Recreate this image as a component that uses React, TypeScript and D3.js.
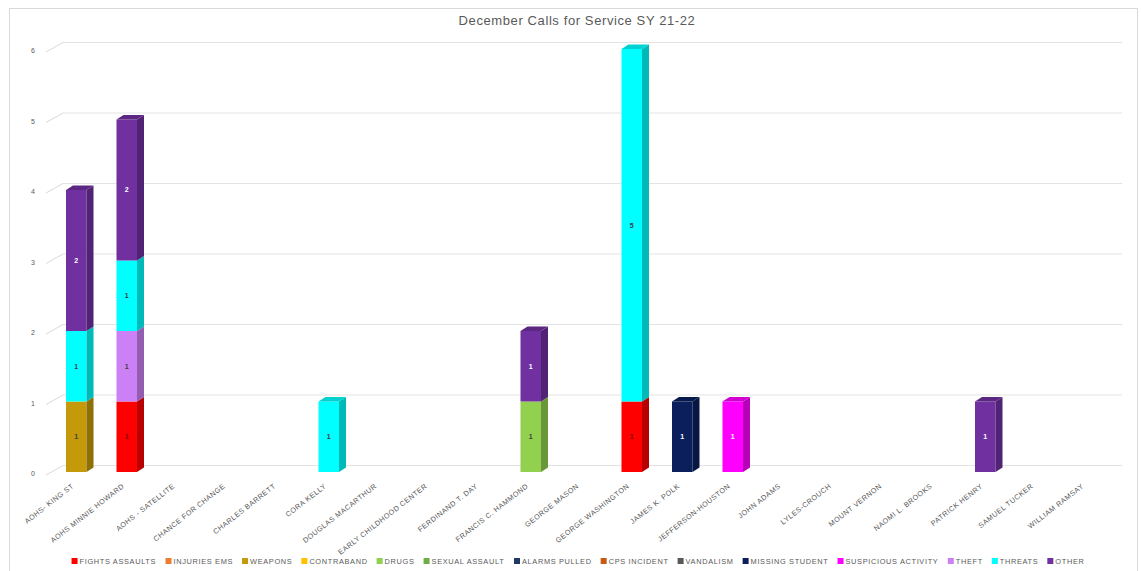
import React, { useMemo } from "react";
import * as d3 from "d3";

const categories = [
  "AOHS- KING ST",
  "AOHS MINNIE HOWARD",
  "AOHS - SATELLITE",
  "CHANCE FOR CHANGE",
  "CHARLES BARRETT",
  "CORA KELLY",
  "DOUGLAS MACARTHUR",
  "EARLY CHILDHOOD CENTER",
  "FERDINAND T. DAY",
  "FRANCIS C. HAMMOND",
  "GEORGE MASON",
  "GEORGE WASHINGTON",
  "JAMES K. POLK",
  "JEFFERSON-HOUSTON",
  "JOHN ADAMS",
  "LYLES-CROUCH",
  "MOUNT VERNON",
  "NAOMI L. BROOKS",
  "PATRICK HENRY",
  "SAMUEL TUCKER",
  "WILLIAM RAMSAY",
];

const seriesNames = [
  "FIGHTS ASSAULTS",
  "INJURIES EMS",
  "WEAPONS",
  "CONTRABAND",
  "DRUGS",
  "SEXUAL ASSAULT",
  "ALARMS PULLED",
  "CPS INCIDENT",
  "VANDALISM",
  "MISSING STUDENT",
  "SUSPICIOUS ACTIVITY",
  "THEFT",
  "THREATS",
  "OTHER",
];

const seriesColors = [
  "#ff0000",
  "#ed7d31",
  "#c49a0a",
  "#ffc000",
  "#92d050",
  "#70ad47",
  "#203864",
  "#c55a11",
  "#595959",
  "#0a1f5c",
  "#ff00ff",
  "#cc80f5",
  "#00ffff",
  "#7030a0",
];

const labelColors = [
  "#8a0000", "#404040", "#404040", "#404040", "#404040", "#404040", "#ffffff",
  "#ffffff", "#ffffff", "#ffffff", "#ffffff", "#404040", "#404040", "#ffffff",
];

// values per series, one per category (order as categories)
const fightsAssaults =     [0,1,0,0,0,0,0,0,0,0,0,1,0,0,0,0,0,0,0,0,0];
const injuriesEms =        [0,0,0,0,0,0,0,0,0,0,0,0,0,0,0,0,0,0,0,0,0];
const weapons =            [1,0,0,0,0,0,0,0,0,0,0,0,0,0,0,0,0,0,0,0,0];
const contraband =         [0,0,0,0,0,0,0,0,0,0,0,0,0,0,0,0,0,0,0,0,0];
const drugs =              [0,0,0,0,0,0,0,0,0,1,0,0,0,0,0,0,0,0,0,0,0];
const sexualAssault =      [0,0,0,0,0,0,0,0,0,0,0,0,0,0,0,0,0,0,0,0,0];
const alarmsPulled =       [0,0,0,0,0,0,0,0,0,0,0,0,0,0,0,0,0,0,0,0,0];
const cpsIncident =        [0,0,0,0,0,0,0,0,0,0,0,0,0,0,0,0,0,0,0,0,0];
const vandalism =          [0,0,0,0,0,0,0,0,0,0,0,0,0,0,0,0,0,0,0,0,0];
const missingStudent =     [0,0,0,0,0,0,0,0,0,0,0,0,1,0,0,0,0,0,0,0,0];
const suspiciousActivity = [0,0,0,0,0,0,0,0,0,0,0,0,0,1,0,0,0,0,0,0,0];
const theft =              [0,1,0,0,0,0,0,0,0,0,0,0,0,0,0,0,0,0,0,0,0];
const threats =            [1,1,0,0,0,1,0,0,0,0,0,5,0,0,0,0,0,0,0,0,0];
const other =              [2,2,0,0,0,0,0,0,0,1,0,0,0,0,0,0,0,0,1,0,0];

const seriesValues = [
  fightsAssaults, injuriesEms, weapons, contraband, drugs, sexualAssault,
  alarmsPulled, cpsIncident, vandalism, missingStudent, suspiciousActivity,
  theft, threats, other,
];

const yTicks = [0, 1, 2, 3, 4, 5, 6];
const title = "December Calls for Service SY 21-22";

const W = 1141;
const H = 571;
const FONT = "'Liberation Sans', Arial, sans-serif";
const GREY = "#595959";

export default function App() {
  const x = d3
    .scaleBand<string>()
    .domain(categories)
    .range([51, 1111.5])
    .paddingInner(0.594)
    .paddingOuter(0.297);
  const y = d3.scaleLinear().domain([0, 6]).range([472, 49]);

  const table = categories.map((c, i) => {
    const row: Record<string, number | string> = { cat: c };
    seriesNames.forEach((s, k) => (row[s] = seriesValues[k][i]));
    return row;
  });
  const stacked = d3.stack<any>().keys(seriesNames)(table as any);

  const depthX = 7;
  const depthY = -4.5;
  const bw = x.bandwidth();

  const legendFont = 7.4;
  const legendSpacing = 0.65;
  const legendItems = useMemo(() => {
    const canvas = document.createElement("canvas");
    const ctx = canvas.getContext("2d")!;
    ctx.font = `${legendFont}px ${FONT}`;
    const sq = 6;
    const gapIn = 2;
    const gapOut = 9;
    const widths = seriesNames.map(
      (s) => sq + gapIn + ctx.measureText(s).width + legendSpacing * s.length
    );
    const total = d3.sum(widths) + gapOut * (widths.length - 1);
    let cx = 578 - total / 2;
    return seriesNames.map((s, i) => {
      const item = { name: s, x: cx, color: seriesColors[i] };
      cx += widths[i] + gapOut;
      return item;
    });
  }, []);

  const segs: JSX.Element[] = [];
  stacked.forEach((layer, k) => {
    layer.forEach((d, i) => {
      const v = d[1] - d[0];
      if (v <= 0) return;
      const cat = categories[i];
      const x0 = x(cat)!;
      const x1 = x0 + bw;
      const yTop = y(d[1]);
      const yBot = y(d[0]);
      const base = d3.color(seriesColors[k])!;
      const side = base.darker(0.9).formatHex();
      const top = base.darker(0.55).formatHex();
      const isTop = d[1] === d3.sum(seriesValues, (arr) => arr[i]);
      segs.push(
        <g key={`${k}-${i}`}>
          <rect x={x0} y={yTop} width={bw} height={yBot - yTop} fill={seriesColors[k]} />
          <polygon
            points={`${x1},${yTop} ${x1 + depthX},${yTop + depthY} ${x1 + depthX},${yBot + depthY} ${x1},${yBot}`}
            fill={side}
          />
          {isTop && (
            <polygon
              points={`${x0},${yTop} ${x1},${yTop} ${x1 + depthX},${yTop + depthY} ${x0 + depthX},${yTop + depthY}`}
              fill={top}
            />
          )}
          <text
            x={x0 + bw / 2}
            y={(yTop + yBot) / 2}
            dy="0.35em"
            textAnchor="middle"
            fontFamily={FONT}
            fontSize={7}
            fontWeight="bold"
            fill={labelColors[k]}
          >
            {v}
          </text>
        </g>
      );
    });
  });

  return (
    <svg
      width={W}
      height={H}
      style={{ position: "absolute", left: 0, top: 0, display: "block", background: "#fff" }}
    >
      <rect x={9.5} y={8.5} width={1128} height={570} fill="#fff" stroke="#d9d9d9" strokeWidth={1} />
      <text
        x={577}
        y={25}
        textAnchor="middle"
        fontFamily={FONT}
        fontSize={13}
        letterSpacing={0.6}
        fill={GREY}
      >
        {title}
      </text>
      {yTicks.map((t) => {
        const yy = y(t);
        return (
          <g key={t}>
            <line x1={46} y1={yy + 3} x2={63} y2={yy - 6.5} stroke="#d9d9d9" strokeWidth={1} />
            <line x1={63} y1={yy - 6.5} x2={1122} y2={yy - 6.5} stroke="#e3e3e3" strokeWidth={1.2} />
            <text
              x={33}
              y={yy + 2}
              dy="0.35em"
              textAnchor="middle"
              fontFamily={FONT}
              fontSize={7}
              fill={GREY}
            >
              {t}
            </text>
          </g>
        );
      })}
      {segs}
      {categories.map((c) => {
        const cx = x(c)! + bw / 2 - 2;
        const cy = 487;
        return (
          <text
            key={c}
            transform={`translate(${cx},${cy}) rotate(-38)`}
            textAnchor="end"
            fontFamily={FONT}
            fontSize={7.2}
            letterSpacing={0.5}
            fill={GREY}
          >
            {c}
          </text>
        );
      })}
      {legendItems.map((it) => (
        <g key={it.name}>
          <rect x={it.x} y={558} width={6} height={6} fill={it.color} />
          <text
            x={it.x + 8}
            y={561}
            dy="0.35em"
            fontFamily={FONT}
            fontSize={legendFont}
            letterSpacing={legendSpacing}
            fill={GREY}
          >
            {it.name}
          </text>
        </g>
      ))}
    </svg>
  );
}
